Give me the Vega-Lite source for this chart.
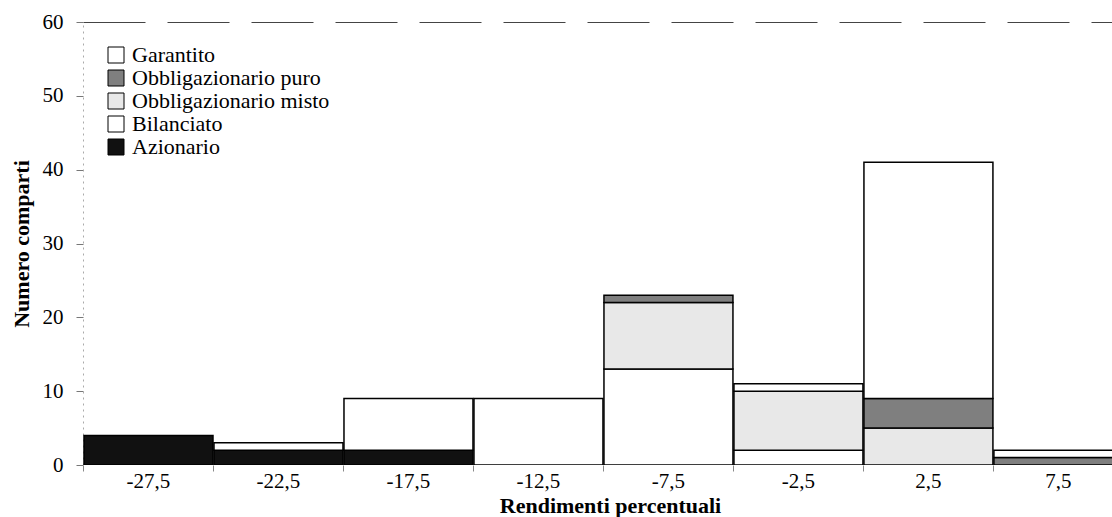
{
  "$schema": "https://vega.github.io/schema/vega-lite/v6.json",
  "width": 1029,
  "height": 443,
  "autosize": {"type": "none"},
  "padding": {"left": 83, "top": 22, "right": 0, "bottom": 52},
  "background": "white",
  "config": {
    "view": {"stroke": null},
    "font": "Liberation Serif"
  },
  "datasets": {
    "fondi": [
      {"da": -30, "a": -25, "tipo": "Azionario", "n": 4},
      {"da": -25, "a": -20, "tipo": "Azionario", "n": 2},
      {"da": -25, "a": -20, "tipo": "Bilanciato", "n": 1},
      {"da": -20, "a": -15, "tipo": "Azionario", "n": 2},
      {"da": -20, "a": -15, "tipo": "Bilanciato", "n": 7},
      {"da": -15, "a": -10, "tipo": "Bilanciato", "n": 9},
      {"da": -10, "a": -5, "tipo": "Bilanciato", "n": 13},
      {"da": -10, "a": -5, "tipo": "Obbligazionario misto", "n": 9},
      {"da": -10, "a": -5, "tipo": "Obbligazionario puro", "n": 1},
      {"da": -5, "a": 0, "tipo": "Bilanciato", "n": 2},
      {"da": -5, "a": 0, "tipo": "Obbligazionario misto", "n": 8},
      {"da": -5, "a": 0, "tipo": "Garantito", "n": 1},
      {"da": 0, "a": 5, "tipo": "Obbligazionario misto", "n": 5},
      {"da": 0, "a": 5, "tipo": "Obbligazionario puro", "n": 4},
      {"da": 0, "a": 5, "tipo": "Garantito", "n": 32},
      {"da": 5, "a": 10, "tipo": "Obbligazionario puro", "n": 1},
      {"da": 5, "a": 10, "tipo": "Garantito", "n": 1}
    ],
    "tipi": [
      {"tipo": "Azionario", "ordine": 1},
      {"tipo": "Bilanciato", "ordine": 2},
      {"tipo": "Obbligazionario misto", "ordine": 3},
      {"tipo": "Obbligazionario puro", "ordine": 4},
      {"tipo": "Garantito", "ordine": 5}
    ]
  },
  "data": {"name": "fondi"},
  "transform": [
    {"lookup": "tipo", "from": {"data": {"name": "tipi"}, "key": "tipo", "fields": ["ordine"]}}
  ],
  "mark": {"type": "bar", "stroke": "#000000", "strokeWidth": 1.5, "clip": true, "orient": "vertical"},
  "encoding": {
    "x": {
      "field": "da",
      "type": "quantitative",
      "bin": "binned",
      "scale": {"domain": [-30, 9.58], "nice": false, "zero": false},
      "axis": {
        "title": "Rendimenti percentuali",
        "titleFont": "Liberation Serif",
        "titleFontSize": 22,
        "titleFontWeight": "bold",
        "titleColor": "#000000",
        "titlePadding": 4,
        "titleX": 527,
        "values": [-30, -27.5, -25, -22.5, -20, -17.5, -15, -12.5, -10, -7.5, -5, -2.5, 0, 2.5, 5, 7.5],
        "labelExpr": "datum.value % 5 == 0 ? '' : replace(replace(format(datum.value, '.1f'), '.', ','), '\u2212', '-')",
        "labelFont": "Liberation Serif",
        "labelFontSize": 21,
        "labelColor": "#000000",
        "labelOverlap": false,
        "labelFlush": false,
        "labelPadding": -1,
        "tickSize": 6,
        "tickColor": "#888888",
        "tickOpacity": {"condition": {"test": "datum.value % 5 == 0", "value": 1}, "value": 0},
        "domain": false,
        "grid": false
      }
    },
    "x2": {"field": "a"},
    "y": {
      "field": "n",
      "type": "quantitative",
      "stack": "zero",
      "scale": {"domain": [0, 60], "nice": false},
      "axis": {
        "title": "Numero comparti",
        "titleFont": "Liberation Serif",
        "titleFontSize": 22,
        "titleFontWeight": "bold",
        "titleColor": "#000000",
        "titlePadding": 9,
        "values": [0, 10, 20, 30, 40, 50, 60],
        "labelFont": "Liberation Serif",
        "labelFontSize": 21,
        "labelColor": "#000000",
        "labelPadding": 13,
        "tickSize": 7,
        "tickColor": "#777777",
        "domainColor": "#aaaaaa",
        "domainDash": [2, 4],
        "grid": true,
        "gridColor": "#444444",
        "gridDash": [62, 22],
        "gridOpacity": {"condition": {"test": "datum.value == 60", "value": 1}, "value": 0}
      }
    },
    "order": {"field": "ordine", "type": "quantitative", "sort": "ascending"},
    "color": {
      "field": "tipo",
      "type": "nominal",
      "scale": {
        "domain": ["Garantito", "Obbligazionario puro", "Obbligazionario misto", "Bilanciato", "Azionario"],
        "range": ["#ffffff", "#7f7f7f", "#e8e8e8", "#ffffff", "#111111"]
      },
      "legend": {
        "title": null,
        "orient": "none",
        "legendX": 22,
        "legendY": 22,
        "padding": 0,
        "symbolType": "square",
        "symbolSize": 256,
        "symbolStrokeColor": "#000000",
        "symbolStrokeWidth": 1,
        "symbolOpacity": 1,
        "labelFont": "Liberation Serif",
        "labelFontSize": 22,
        "labelColor": "#000000",
        "labelOffset": 5,
        "rowPadding": 1,
        "labelLimit": 400
      }
    }
  }
}
